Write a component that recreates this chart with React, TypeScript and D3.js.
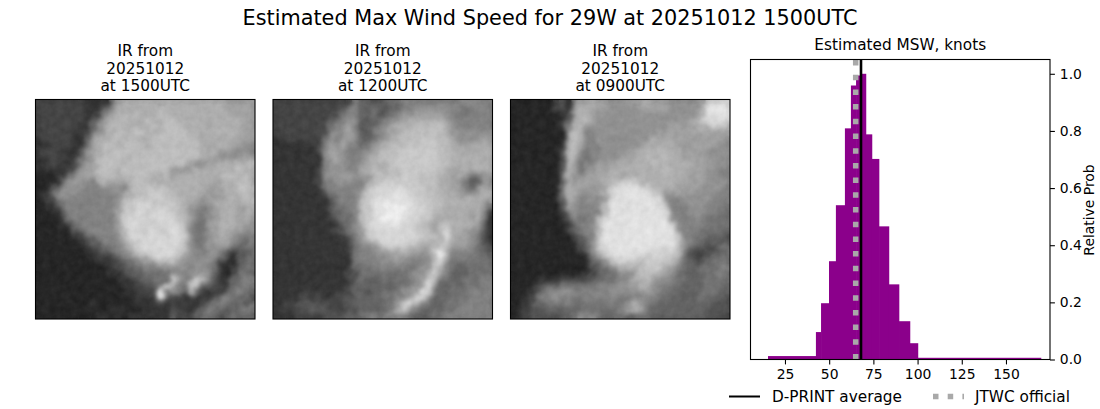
import * as d3 from "d3";
import { useEffect, useRef } from "react";

const mainTitle = "Estimated Max Wind Speed for 29W at 20251012 1500UTC";
const histTitle = "Estimated MSW, knots";
const histYLabel = "Relative Prob";
const xTicks = [25, 50, 75, 100, 125, 150];
const yTicks = [0, 0.2, 0.4, 0.6, 0.8, 1.0];

// histogram bins, knots
const binEdges = [15.4, 42.5, 45.4, 49.9, 53.8, 58.9, 62.3, 65.2, 68, 70.8, 74.2, 78.2, 83.8, 89.5, 95.7, 100.2, 169.8];
const binProbs = [0.012, 0.096, 0.197, 0.344, 0.54, 0.809, 0.959, 0.994, 1.0, 0.788, 0.702, 0.466, 0.263, 0.134, 0.057, 0.006];
const dprintAverage = 68;
const jtwcOfficial = 65;

const frameTitles = [
  ["IR from", "20251012", "at 1500UTC"],
  ["IR from", "20251012", "at 1200UTC"],
  ["IR from", "20251012", "at 0900UTC"],
];

// IR brightness read by eye, one hex digit per cell (0 dark, f bright), spaces only for reading
const ir1500 = [
  "33333 33322 2279a aaaaa aaaaa aaaaa a99999",
  "33333 33322 2579a aaaaa baaaa aaaaa a99999",
  "33333 33322 479aa abaaa baaaa aaaaa aa9999",
  "33333 33325 79aab aaaba abbaa aaaaa aaaa99",
  "33333 33225 8aaba abaab abbba aaaaa aaa999",
  "33333 32247 8aabb abbaa bbbbb aaaaa aaaa99",
  "23333 32259 aabba bbabb bbbbb baaaa aaa999",
  "22333 32269 abbab bbbab bbbbb bbaaa aa9988",
  "23332 22489 abbbb bbbbb bbbbb bbaaa 998887",
  "23333 22689 abbbb abbbb bbbbb bbaa9 887899",
  "22332 23799 bbbba bbbbb bbbbb 98899 aaaaab",
  "21222 36899 bbbab bbbbb bb988 9aaaa aaabaa",
  "11122 68999 abbaa bbbba ab9aa aaaaa abbaba",
  "11125 89887 aa999 abbaa aaaaa aaaa9 aaabba",
  "11358 88877 78887 abbcb bbaaa aaa99 9aabbb",
  "12478 88777 77879 abbcc cbbaa aa998 9aabba",
  "12367 77777 7778a bcccc ccbba a9899 9aaabb",
  "11246 77777 7778b ccddc cccba 98789 aaa9aa",
  "11125 77777 7779c cddcd ddcba 87689 aaa9aa",
  "11113 67777 7779c dddcd dddbb 97689 aaa9a9",
  "11112 46777 7778c ddddc cdddb 86699 aaa998",
  "11111 24677 7778b ddcdd cdddb 76689 aa9988",
  "11111 12356 7778a cdddd dcddc 86789 a98767",
  "11111 11235 57779 bcddd ddddb 86789 997657",
  "11111 11123 45678 acddd dddcb 87788 875556",
  "11111 11112 33457 8abcd dddb9 87788 642456",
  "11111 11111 22335 6789a abb98 88887 321456",
  "11111 11111 12234 56677 88888 78876 213566",
  "11111 11111 11223 45566 66777 88985 213665",
  "11111 11111 11122 34556 66c97 7cb74 225677",
  "11111 11111 11112 23345 6cb76 cb653 325676",
  "11111 11111 11111 22334 e6875 a5323 256765",
  "11111 11111 11111 12223 e4332 32235 676564",
  "11111 11112 11111 12222 32323 22356 765647",
  "11111 11111 11222 11222 22332 23576 545676",
  "11111 11111 22121 22222 22534 35665 456565",
];
const ir1200 = [
  "33333 33333 33475 54456 67777 77777 788877",
  "33333 33333 34775 56545 56788 88887 766777",
  "33333 33333 46775 56456 78899 99987 667777",
  "33333 33335 67885 45678 99aaa aaa97 777777",
  "33333 33336 78974 56789 aaabb bbba8 777777",
  "33333 33347 88985 45789 abbbb bbba8 888888",
  "22332 33368 79985 5789a abbbc cbbb9 888899",
  "22222 22379 89775 689ab bbccc ccbba 999aaa",
  "22222 22379 98767 89abb bcccc ccbba aaaaaa",
  "22222 22289 98778 9abbb ccccc ccbba aaaaaa",
  "22222 22278 98778 9aaab ccccc ccbba aaaaaa",
  "22222 22378 88779 abaab bcccc cbba9 9a9aaa",
  "22222 22378 89988 99bbb bcccb bbaa9 a96689",
  "22222 22377 88877 8abcc ccccb bba99 964588",
  "22222 22267 77778 bcddd ddccc bbaa9 975799",
  "22222 22236 77779 cdddd eedcc bbaaa 9889aa",
  "22222 22224 6777a cdeee eeedc cbbaa aaaaa9",
  "22222 22224 6677b cdeff ffedd cbbaa aaaa96",
  "22222 22223 5667b cdeff ffedd cbaaa aa9a83",
  "22222 22223 4667b cdeff feddc ca9aa aa9a72",
  "22222 22222 3567a cdeee eddcb a9bba aaa962",
  "22222 22222 34679 cdddd dddcb b9bda a98852",
  "22222 22222 23578 bcddd ddddc bbaea 998742",
  "22222 22222 22468 9bcdd ddcca aabb9 998743",
  "22222 22222 22367 789ab bbaa9 9bda8 887654",
  "22222 22222 22367 77889 99988 8afb7 777665",
  "22222 22222 22267 77788 88777 8cd96 666666",
  "22222 22222 22356 67777 77678 8ba76 556666",
  "22222 22222 22346 66666 66788 ac975 556666",
  "22222 22222 22446 55565 66789 cb665 566677",
  "22222 22222 22355 55555 66689 e8556 566677",
  "22222 32322 33355 45566 6889e c6556 667777",
  "22223 33323 34455 55566 789dc 75566 667777",
  "22334 44443 34455 55566 8cea7 65566 677777",
  "22334 45443 33445 55567 ac975 55566 777777",
  "22223 33344 44556 67677 77655 56677 777777",
];
const ir0900 = [
  "11111 11342 79aa9 98889 99a99 98888 89dddd",
  "11111 11342 8aa99 98888 89999 98888 8aeeee",
  "11111 11123 9aa98 88888 88888 88888 8aeeee",
  "11111 11125 aab98 88888 88888 88899 acdddd",
  "11111 11127 ab888 88888 88888 89999 9aabbb",
  "11111 11118 ba778 88888 88889 99999 999999",
  "11111 11118 ba778 88888 888a9 a9a99 999998",
  "11111 1112a b9778 88888 89aaa aa999 999988",
  "11111 1113a b8677 88889 9aaab aaa99 998888",
  "11111 1114b a7678 88899 aabaa baa99 998888",
  "11111 1114b 96779 89aa9 aaaba aaaaa 999888",
  "11111 1114a 96889 9aaaa aaaaa baaa9 998877",
  "11111 1114a 88999 aaa9a aaaaa aaaa9 998877",
  "11111 1115a 89999 aabcc caaaa aaa99 998888",
  "11111 1116a 99989 9cdee edcaa aa999 988887",
  "11111 1116a a8889 adeee eeecb 88998 888877",
  "11111 1115a 97887 8deee eeeed 87788 888777",
  "11111 11149 87778 beeee eeeed c7778 887776",
  "11111 11135 87777 beeee eeeee d7778 887766",
  "11111 11124 7677b deeee eeeee d8777 876666",
  "11111 11113 6777b eeeee eeeee ed877 776666",
  "11111 11112 4677b eeeee eeeee ee877 766665",
  "11111 11111 3577b eeeee eeeee edc77 665554",
  "11111 11111 2468c eeeee eeeee eec87 654545",
  "11111 11111 1358c deeee eeedd cdb85 443456",
  "11111 11111 11369 cdeee ddcdd ccb74 334566",
  "11111 11111 11256 8bcdc bbccc cb965 445666",
  "11111 11111 11135 689ab abccc a9765 566677",
  "11111 11111 11235 56788 abbba 98655 566676",
  "11112 22233 33445 66778 aab98 87665 556666",
  "11113 45566 66667 77889 9aa87 76655 556665",
  "11124 67888 77777 78888 88987 66555 566655",
  "11236 78877 66777 77767 78776 65555 565554",
  "11245 56767 66666 67678 a8765 55555 555444",
  "11344 55545 56666 66789 a9655 55555 554444",
  "12344 44455 68786 55665 56655 55555 554443",
];
const irFrames = [ir1500, ir1200, ir0900];

const font = "'DejaVu Sans', sans-serif";

export default function App() {
  const ref = useRef<SVGSVGElement>(null);

  useEffect(() => {
    if (!ref.current) return;
    const svg = d3.select(ref.current);
    svg.selectAll("*").remove();

    svg
      .append("text")
      .attr("x", 550)
      .attr("y", 25)
      .attr("text-anchor", "middle")
      .style("font-size", "20.8px")
      .style("fill", "#000")
      .text(mainTitle);

    const defs = svg.append("defs");
    // ragged cloud edges, a soft blur to lose the cell grid, then some fine grain
    const filter = defs
      .append("filter")
      .attr("id", "cloud")
      .attr("x", "-10%")
      .attr("y", "-10%")
      .attr("width", "120%")
      .attr("height", "120%")
      .attr("color-interpolation-filters", "sRGB");
    filter
      .append("feTurbulence")
      .attr("type", "fractalNoise")
      .attr("baseFrequency", 0.14)
      .attr("numOctaves", 3)
      .attr("seed", 4)
      .attr("result", "noise");
    filter
      .append("feDisplacementMap")
      .attr("in", "SourceGraphic")
      .attr("in2", "noise")
      .attr("scale", 9)
      .attr("xChannelSelector", "R")
      .attr("yChannelSelector", "G")
      .attr("result", "moved");
    filter.append("feGaussianBlur").attr("in", "moved").attr("stdDeviation", 1.9).attr("result", "soft");
    filter
      .append("feColorMatrix")
      .attr("in", "noise")
      .attr("type", "matrix")
      .attr("values", "1 0 0 0 0  1 0 0 0 0  1 0 0 0 0  0 0 0 0 1")
      .attr("result", "grain");
    filter
      .append("feComposite")
      .attr("in", "soft")
      .attr("in2", "grain")
      .attr("operator", "arithmetic")
      .attr("k1", 0)
      .attr("k2", 1)
      .attr("k3", 0.07)
      .attr("k4", -0.035);

    const gray = d3
      .scaleLinear<string>()
      .domain([0, 8, 11, 15])
      .range(["#161616", "#929292", "#bebebe", "#eeeeee"]);
    const frameLeft = [35.5, 273, 510.5];
    const frameSize = 219.5;
    const frameTop = 99.5;

    irFrames.forEach((rows, k) => {
      const g = svg.append("g").attr("transform", `translate(${frameLeft[k]},${frameTop})`);
      const cx = d3.scaleBand<number>().domain(d3.range(36)).range([0, frameSize]);
      const cy = d3.scaleBand<number>().domain(d3.range(rows.length)).range([0, frameSize]);

      defs
        .append("clipPath")
        .attr("id", `frame-${k}`)
        .append("rect")
        .attr("width", frameSize)
        .attr("height", frameSize);

      const cells = rows.flatMap((row, r) =>
        row
          .replace(/ /g, "")
          .split("")
          .map((c, i) => ({ r, i, v: parseInt(c, 16) })),
      );
      const clip = g.append("g").attr("clip-path", `url(#frame-${k})`);
      [false, true].forEach((soft) => {
        const layer = clip.append("g");
        if (soft) layer.attr("filter", "url(#cloud)");
        layer
          .selectAll("rect")
          .data(cells)
          .join("rect")
          .attr("x", (d) => cx(d.i) ?? 0)
          .attr("y", (d) => cy(d.r) ?? 0)
          .attr("width", cx.bandwidth() + 0.5)
          .attr("height", cy.bandwidth() + 0.5)
          .attr("fill", (d) => gray(d.v));
      });

      g.append("rect")
        .attr("width", frameSize)
        .attr("height", frameSize)
        .attr("fill", "none")
        .attr("stroke", "#000")
        .attr("stroke-width", 1.1);

      frameTitles[k].forEach((line, j) => {
        g.append("text")
          .attr("x", frameSize / 2)
          .attr("y", -43.5 + j * 17.5)
          .attr("text-anchor", "middle")
          .style("font-size", "15.3px")
          .style("fill", "#000")
          .text(line);
      });
    });

    const left = 750.5;
    const right = 1050;
    const top = 59.5;
    const bottom = 359.5;
    const x = d3.scaleLinear().domain([5.5, 174.9]).range([left, right]);
    const y = d3.scaleLinear().domain([0, 1.05]).range([bottom, top]);

    svg
      .append("g")
      .selectAll("rect")
      .data(binProbs)
      .join("rect")
      .attr("x", (_d, i) => x(binEdges[i]))
      .attr("y", (d) => y(d))
      .attr("width", (_d, i) => x(binEdges[i + 1]) - x(binEdges[i]) + 0.3)
      .attr("height", (d) => bottom - y(d))
      .attr("fill", "#8b008b");

    svg
      .append("line")
      .attr("x1", x(dprintAverage))
      .attr("x2", x(dprintAverage))
      .attr("y1", bottom)
      .attr("y2", top)
      .attr("stroke", "#000")
      .attr("stroke-width", 2.6);
    svg
      .append("line")
      .attr("x1", x(jtwcOfficial))
      .attr("x2", x(jtwcOfficial))
      .attr("y1", bottom)
      .attr("y2", top)
      .attr("stroke", "#a9a9a9")
      .attr("stroke-width", 5.5)
      .attr("stroke-dasharray", "5.5 9.2");

    const xAxis = svg
      .append("g")
      .attr("transform", `translate(0,${bottom})`)
      .call(d3.axisBottom(x).tickValues(xTicks).tickSize(4.9).tickPadding(4.9).tickFormat(d3.format("d")));
    const yAxis = svg
      .append("g")
      .attr("transform", `translate(${right},0)`)
      .call(d3.axisRight(y).tickValues(yTicks).tickSize(4.9).tickPadding(4.9).tickFormat(d3.format(".1f")));
    [xAxis, yAxis].forEach((axis) => {
      axis.attr("font-family", font).attr("font-size", 13.9);
      axis.selectAll("text").style("fill", "#000");
      axis.selectAll("line").style("stroke", "#000").style("stroke-width", 1.1);
      axis.select(".domain").remove();
    });

    svg
      .append("rect")
      .attr("x", left)
      .attr("y", top)
      .attr("width", right - left)
      .attr("height", bottom - top)
      .attr("fill", "none")
      .attr("stroke", "#000")
      .attr("stroke-width", 1.1);

    svg
      .append("text")
      .attr("x", (left + right) / 2)
      .attr("y", 50)
      .attr("text-anchor", "middle")
      .style("font-size", "15.3px")
      .style("fill", "#000")
      .text(histTitle);

    svg
      .append("text")
      .attr("transform", "translate(1094,210) rotate(-90)")
      .attr("text-anchor", "middle")
      .style("font-size", "13.9px")
      .style("fill", "#000")
      .text(histYLabel);

    const legendY = 396.5;
    svg
      .append("line")
      .attr("x1", 729)
      .attr("x2", 760)
      .attr("y1", legendY)
      .attr("y2", legendY)
      .attr("stroke", "#000")
      .attr("stroke-width", 2);
    svg
      .append("line")
      .attr("x1", 933)
      .attr("x2", 964)
      .attr("y1", legendY)
      .attr("y2", legendY)
      .attr("stroke", "#a9a9a9")
      .attr("stroke-width", 5.5)
      .attr("stroke-dasharray", "5.5 9.2");
    [
      { label: "D-PRINT average", at: 772 },
      { label: "JTWC official", at: 975 },
    ].forEach((d) => {
      svg
        .append("text")
        .attr("x", d.at)
        .attr("y", legendY + 5.5)
        .style("font-size", "15.3px")
        .style("fill", "#000")
        .text(d.label);
    });
  }, []);

  return (
    <svg
      ref={ref}
      width={1100}
      height={409}
      style={{ position: "absolute", left: 0, top: 0, fontFamily: font, background: "#fff" }}
    />
  );
}
